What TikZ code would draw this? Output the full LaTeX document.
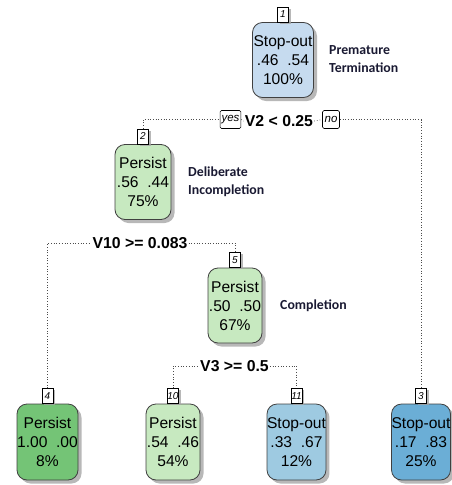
\documentclass[tikz,border=0pt]{standalone}
\usepackage{fontspec}
\setmainfont{Liberation Sans}
\newfontfamily\calib{Carlito}
\usetikzlibrary{shadows,positioning}
\definecolor{blueA}{RGB}{198,219,239}
\definecolor{blueB}{RGB}{158,202,225}
\definecolor{blueC}{RGB}{107,174,214}
\definecolor{greenA}{RGB}{199,233,192}
\definecolor{greenB}{RGB}{116,196,118}
\definecolor{annot}{RGB}{25,25,50}
\tikzset{
  leaf/.style={draw=black!75, line width=0.8pt, rounded corners=10pt, align=center,
    inner sep=0pt, minimum height=75pt,
    font=\fontsize{15.6}{19}\selectfont,
    drop shadow={shadow xshift=3.5pt, shadow yshift=-3.5pt, fill=black!35, opacity=0.8}},
  numlab/.style={draw=black, line width=0.6pt, fill=white, inner sep=0pt,
    minimum width=11pt, minimum height=15pt, font=\fontsize{10}{10}\selectfont\itshape,
    drop shadow={shadow xshift=2pt, shadow yshift=-2pt, fill=black!35, opacity=0.8}},
  yn/.style={draw=black, line width=0.6pt, fill=white, inner sep=1.5pt, rounded corners=1.5pt,
    minimum height=18pt, minimum width=17pt, font=\fontsize{11.5}{11.5}\selectfont\itshape},
  split/.style={font=\fontsize{15.8}{16}\selectfont\bfseries, inner sep=1pt, fill=white},
  annotx/.style={font=\fontsize{13.8}{18}\selectfont\calib\bfseries, text=annot, align=left, anchor=west, inner sep=0pt},
  conn/.style={draw=black!70, line width=0.7pt, dotted}
}
\begin{document}
\begin{tikzpicture}[x=1pt,y=-1pt]
\useasboundingbox (0,0) rectangle (452,485);
% nodes
\node[leaf, fill=blueA, minimum width=61pt] (n1) at (283,60) {Stop-out\\.46\ \ .54\\100\%};
\node[leaf, fill=greenA, minimum width=56pt] (n2) at (143,182) {Persist\\.56\ \ .44\\75\%};
\node[leaf, fill=greenA, minimum width=54pt] (n5) at (235,305.5) {Persist\\.50\ \ .50\\67\%};
\node[leaf, fill=greenB, minimum width=61pt, minimum height=76pt] (n4) at (47.5,442) {Persist\\1.00\ \ .00\\8\%};
\node[leaf, fill=greenA, minimum width=54pt, minimum height=76pt] (n10) at (173,442) {Persist\\.54\ \ .46\\54\%};
\node[leaf, fill=blueB, minimum width=57pt, minimum height=76pt] (n11) at (296.5,442) {Stop-out\\.33\ \ .67\\12\%};
\node[leaf, fill=blueC, minimum width=57pt, minimum height=76pt] (n3) at (421,442) {Stop-out\\.17\ \ .83\\25\%};
% number labels
\node[numlab, anchor=south] (l1) at (n1.north) {1};
\node[numlab, anchor=south] (l2) at (n2.north) {2};
\node[numlab, anchor=south] (l5) at (n5.north) {5};
\node[numlab, anchor=south] (l4) at (n4.north) {4};
\node[numlab, anchor=south] (l10) at (n10.north) {10};
\node[numlab, anchor=south] (l11) at (n11.north) {11};
\node[numlab, anchor=south] (l3) at (n3.north) {3};
% split labels
\node[split] (s1) at (279,121) {V2 < 0.25};
\node[yn] (yes) at (230.5,119.5) {yes};
\node[yn] (no) at (331,119.5) {no};
\node[split] (s2) at (140,243) {V10 >= 0.083};
\node[split] (s5) at (234.5,366) {V3 >= 0.5};
% connectors
\draw[conn] (l2.north) |- (yes.west);
\draw[conn] (yes.east) -- (s1.west);
\draw[conn] (s1.east) -- (no.west);
\draw[conn] (no.east) -| (l3.north);
\draw[conn] (l4.north) |- (s2.west);
\draw[conn] (s2.east) -| (l5.north);
\draw[conn] (l10.north) |- (s5.west);
\draw[conn] (s5.east) -| (l11.north);
% annotations
\node[annotx] (a1) at (329,59) {Premature\\Termination};
\node[annotx] (a2) at (188,182) {Deliberate\\Incompletion};
\node[annotx] (a5) at (280,306) {Completion};
\end{tikzpicture}
\end{document}
